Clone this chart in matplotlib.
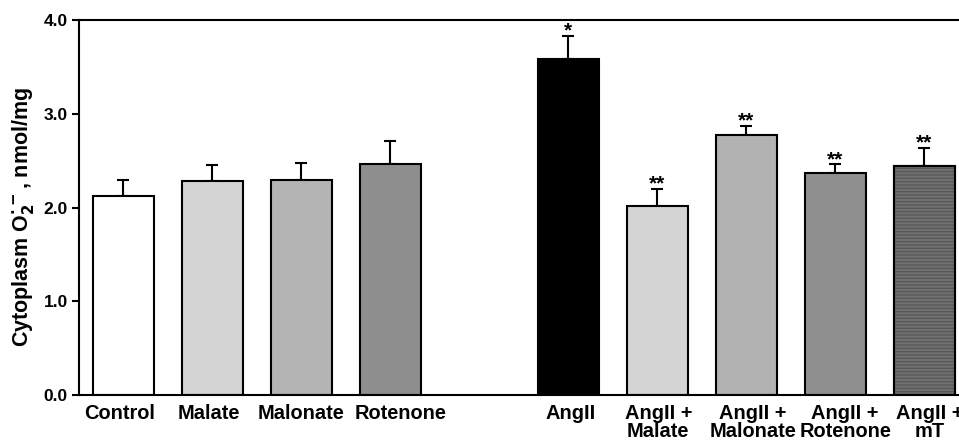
import numpy as np
import matplotlib.pyplot as plt

plt.rcParams['font.family'] = ['Liberation Sans', 'DejaVu Sans']
plt.rcParams['font.weight'] = 'bold'
plt.rcParams['hatch.linewidth'] = 0.8

labels = ["Control", "Malate", "Malonate", "Rotenone",
          "AngII", "AngII +\nMalate", "AngII +\nMalonate", "AngII +\nRotenone", "AngII +\nmT"]
positions = [0, 1, 2, 3, 5, 6, 7, 8, 9]
values = [2.12, 2.28, 2.29, 2.46, 3.58, 2.02, 2.77, 2.37, 2.44]
errors = [0.17, 0.17, 0.19, 0.25, 0.25, 0.18, 0.10, 0.09, 0.20]
stars = ["", "", "", "", "*", "**", "**", "**", "**"]
colors = ["white", "#d4d4d4", "#b4b4b4", "#8e8e8e", "black",
          "#d4d4d4", "#b2b2b2", "#8f8f8f", "#707070"]
# small horizontal nudges of the category labels (as in the original)
label_shift = [-0.04, -0.04, 0.0, 0.11, 0.02, 0.01, 0.07, 0.11, 0.06]

fig = plt.figure(figsize=(9.59, 4.41), dpi=100)
ax = fig.add_axes([79/959, 46/441, 880/959, 375/441])

ax.bar(positions, values, width=0.685, color=colors, edgecolor="black",
       linewidth=1.5, zorder=2)
# horizontal line texture on last bar
ax.bar(positions[-1], values[-1], width=0.685, facecolor="none",
       edgecolor="#555555", hatch="-----", linewidth=0, zorder=3)
ax.bar(positions[-1], values[-1], width=0.685, facecolor="none",
       edgecolor="black", linewidth=1.5, zorder=4)

ax.errorbar(positions, values, yerr=[np.zeros(len(errors)), errors],
            fmt="none", ecolor="black", elinewidth=1.5, capsize=4,
            capthick=1.5, zorder=1)

for p, v, e, s in zip(positions, values, errors, stars):
    if s:
        ax.text(p, v + e - 0.05, s, ha="center", va="bottom",
                fontsize=15, fontweight="bold")

ax.set_xlim(-0.5, 9.39)
ax.set_ylim(0, 4.0)
ax.set_yticks([0, 1, 2, 3, 4])
ax.set_yticklabels(["0.0", "1.0", "2.0", "3.0", "4.0"], fontsize=12.5,
                   fontweight="bold")
ax.set_xticks([])
for p, lab, dx in zip(positions, labels, label_shift):
    ax.text(p + dx, -0.1, lab, ha="center", va="top", fontsize=14.4,
            fontweight="bold", linespacing=0.9, clip_on=False)
ax.tick_params(axis="y", direction="out", length=5, width=1.5, pad=3)
for s in ["left", "bottom", "top"]:
    ax.spines[s].set_linewidth(1.5)
ax.spines["right"].set_visible(False)

ax.set_ylabel(r"Cytoplasm O$_\mathbf{2}^{\bullet-}$, nmol/mg", fontsize=15.5,
              fontweight="bold")
ax.yaxis.set_label_coords(-0.0485, 0.475)

fig.savefig("out.png", dpi=100)
